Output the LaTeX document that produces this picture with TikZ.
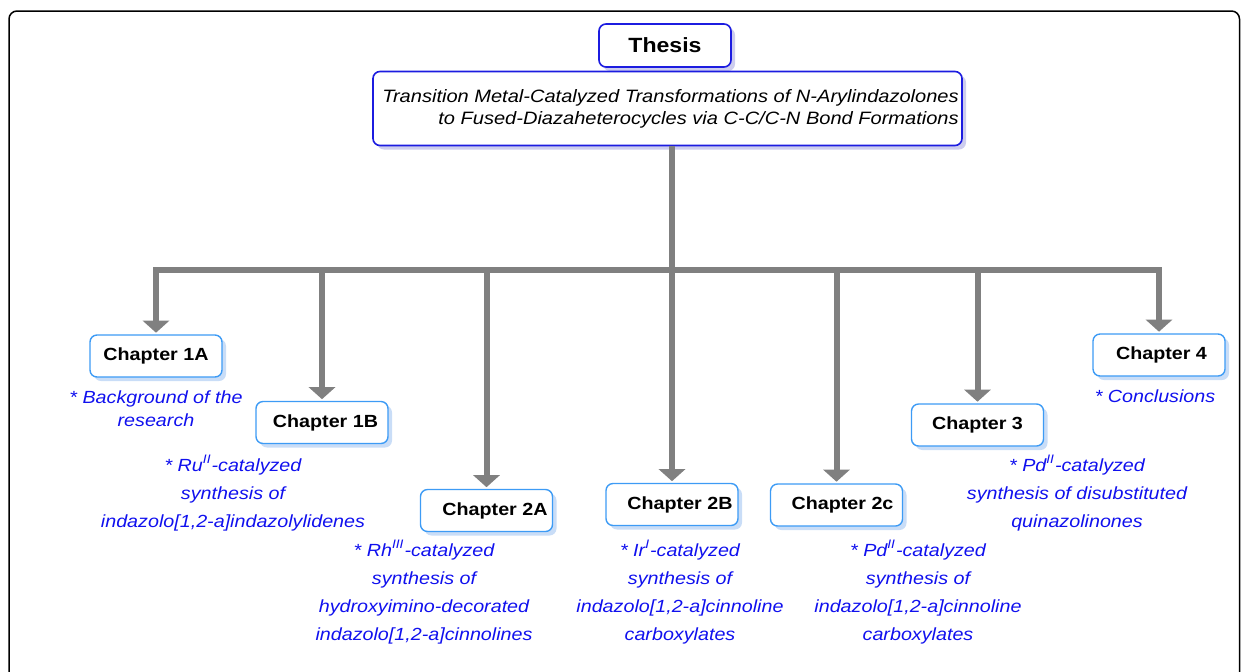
\documentclass[tikz,border=0pt]{standalone}
\usepackage{fontspec}
\setmainfont{Liberation Sans}[FakeStretch=1.12]
\usepackage{tikz}
\usetikzlibrary{arrows.meta,positioning,shadows}
\definecolor{thgray}{HTML}{808080}
\definecolor{thblue}{HTML}{1C1CE0}
\definecolor{thsky}{HTML}{3D9BF5}
\definecolor{thshade}{HTML}{C9DDF7}
\definecolor{thlav}{HTML}{CDCDEE}
\definecolor{thtext}{HTML}{1010EE}
\tikzset{
  thhead/.style={draw=thblue, line width=0.8pt, rounded corners=3.5pt, fill=white, inner sep=0pt,
    drop shadow={shadow xshift=2pt, shadow yshift=-2pt, fill=thlav, opacity=1}},
  thchap/.style={draw=thsky, line width=0.7pt, rounded corners=3.5pt, fill=white,
    minimum width=66pt, minimum height=21pt, inner sep=0pt,
    font=\fontsize{8.8}{10}\selectfont\bfseries,
    drop shadow={shadow xshift=2pt, shadow yshift=-2pt, fill=thshade, opacity=1}},
  thnote/.style={text=thtext, align=center, inner sep=0pt, anchor=base,
    font=\fontsize{8.8}{14}\selectfont\itshape},
  thbus/.style={draw=thgray, line width=3pt},
  tharrow/.style={thbus, -{Triangle[width=13pt,length=6pt]}, shorten >=0.8pt}
}
\begin{document}
\begin{tikzpicture}[x=0.5pt, y=-0.5pt]
\useasboundingbox (0,0) rectangle (1241,671);
\draw[line width=0.75pt, rounded corners=4pt] (9,11) rectangle (1239.5,700);

\node[thhead, minimum width=66pt, minimum height=21.5pt,
  font=\fontsize{10.3}{12}\selectfont\bfseries] (thesis) at (665,45.5) {Thesis};
\node[thhead, minimum width=294.5pt, minimum height=37pt, align=right,
  font=\fontsize{8.95}{11}\selectfont\itshape] (title) at (667.5,108.5)
  {\hspace*{3pt}Transition Metal-Catalyzed Transformations of N-Arylindazolones\\
   to Fused-Diazaheterocycles via C-C/C-N Bond Formations};

% labels pushed a little to the right inside some boxes
\node[thchap] (ch1a) at (156,356) {Chapter 1A};
\node[thchap] (ch1b) at (322,422.5) {\hspace*{3.5pt}Chapter 1B};
\node[thchap] (ch2a) at (486.5,510.5) {\hspace*{8.5pt}Chapter 2A};
\node[thchap] (ch2b) at (672,504.5) {\hspace*{8pt}Chapter 2B};
\node[thchap] (ch2c) at (836.5,505) {\hspace*{6pt}Chapter 2c};
\node[thchap] (ch3) at (977.5,425) {Chapter 3};
\node[thchap] (ch4) at (1159,355) {\hspace*{2.5pt}Chapter 4};

% notes sit on the baseline of their last line
\node[thnote, font=\fontsize{8.8}{11.5}\selectfont\itshape] (n1a) at (156,426)
  {* Background of the\\research};
\node[thnote] (n1b) at (233,527)
  {* Ru\textsuperscript{II}-catalyzed\\synthesis of\\indazolo[1,2-a]indazolylidenes};
\node[thnote] (n2a) at (424,640)
  {* Rh\textsuperscript{III}-catalyzed\\synthesis of\\hydroxyimino-decorated\\indazolo[1,2-a]cinnolines};
\node[thnote] (n2b) at (680,640)
  {* Ir\textsuperscript{I}-catalyzed\\synthesis of\\indazolo[1,2-a]cinnoline\\carboxylates};
\node[thnote] (n2c) at (918,640)
  {* Pd\textsuperscript{II}-catalyzed\\synthesis of\\indazolo[1,2-a]cinnoline\\carboxylates};
\node[thnote] (n3) at (1077,527)
  {* Pd\textsuperscript{II}-catalyzed\\synthesis of disubstituted\\quinazolinones};
\node[thnote] (n4) at (1155,402) {* Conclusions};

\coordinate (bus) at (672,270);
\draw[thbus, line cap=rect] (ch1a |- bus) -- (ch4 |- bus);
\draw[tharrow] (title.south -| ch2b) -- (ch2b.north);
\draw[tharrow] (ch1a |- bus) -- (ch1a.north);
\draw[tharrow] (ch1b |- bus) -- (ch1b.north);
\draw[tharrow] (ch2a |- bus) -- (ch2a.north);
\draw[tharrow] (ch2c |- bus) -- (ch2c.north);
\draw[tharrow] (ch3 |- bus) -- (ch3.north);
\draw[tharrow] (ch4 |- bus) -- (ch4.north);
\end{tikzpicture}
\end{document}
